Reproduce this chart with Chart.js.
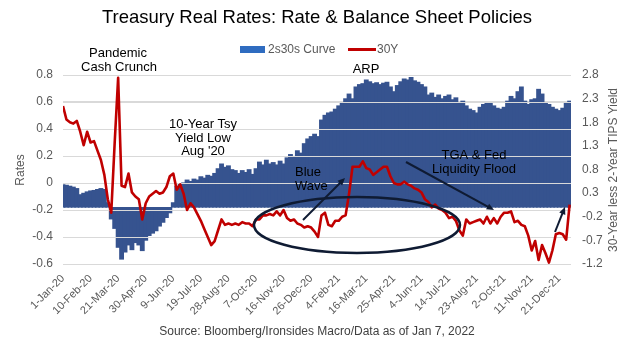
<!DOCTYPE html>
<html>
<head>
<meta charset="utf-8">
<script src="https://cdn.jsdelivr.net/npm/chart.js@4.4.0/dist/chart.umd.min.js"></script>
<style>
  html, body { margin: 0; padding: 0; background: #fff; }
</style>
</head>
<body>
<canvas id="chart" width="634" height="341"></canvas>
<script>
// one point every 5 calendar days, starting 1-Jan-20
const STEP_DAYS = 5;
const START = Date.UTC(2020, 0, 1);
const LAST_DAY = 737; // 7-Jan-22

// 2s30s curve: 30-year less 2-year TIPS yield (right axis)
const curve = [
  0.48, 0.47, 0.45, 0.43, 0.40, 0.27, 0.30, 0.33, 0.35, 0.36,
  0.38, 0.40, 0.38, 0.10, -0.25, -0.45, -0.85, -1.10, -0.95, -0.80,
  -0.90, -0.75, -0.80, -0.92, -0.70, -0.60, -0.55, -0.50, -0.40, -0.32,
  -0.22, -0.12, 0.10, 0.45, 0.50, 0.52, 0.58, 0.55, 0.60, 0.58,
  0.65, 0.62, 0.68, 0.66, 0.72, 0.82, 0.92, 0.85, 0.88, 0.80,
  0.78, 0.72, 0.78, 0.74, 0.80, 0.70, 0.82, 0.96, 0.90, 1.00,
  0.92, 0.95, 0.90, 0.98, 0.92, 1.05, 1.12, 1.08, 1.20, 1.15,
  1.35, 1.45, 1.50, 1.55, 1.50, 1.85, 1.95, 2.00, 2.02, 2.08,
  2.15, 2.22, 2.30, 2.40, 2.30, 2.55, 2.60, 2.62, 2.70, 2.66,
  2.62, 2.64, 2.60, 2.63, 2.65, 2.55, 2.45, 2.58, 2.66, 2.72,
  2.70, 2.75, 2.68, 2.65, 2.60, 2.55, 2.38, 2.42, 2.33, 2.38,
  2.30, 2.35, 2.38, 2.28, 2.32, 2.20, 2.25, 2.15, 2.08, 2.05,
  2.00, 2.12, 2.18, 2.22, 2.20, 2.15, 2.10, 2.08, 2.12, 2.25,
  2.35, 2.30, 2.45, 2.55, 2.25, 2.18, 2.28, 2.30, 2.50, 2.40,
  2.20, 2.18, 2.12, 2.08, 2.05, 2.10, 2.20, 2.25
];

// 30Y real rate (left axis)
const rate30 = [
  0.57, 0.47, 0.45, 0.44, 0.46, 0.38, 0.28, 0.38, 0.30, 0.31,
  0.24, 0.17, 0.06, -0.12, -0.22, 0.30, 0.78, -0.02, -0.03, 0.07,
  -0.07, -0.10, -0.12, -0.27, -0.15, -0.10, -0.08, -0.06, -0.08, -0.07,
  -0.03, 0.05, 0.07, -0.05, -0.01, -0.08, -0.20, -0.15, -0.18, -0.23,
  -0.28, -0.34, -0.40, -0.46, -0.43, -0.35, -0.27, -0.31, -0.30, -0.31,
  -0.30, -0.31, -0.29, -0.30, -0.30, -0.32, -0.27, -0.27, -0.24, -0.24,
  -0.23, -0.24, -0.21, -0.24, -0.20, -0.26, -0.28, -0.27, -0.30, -0.31,
  -0.33, -0.32, -0.33, -0.36, -0.40, -0.24, -0.22, -0.31, -0.32, -0.28,
  -0.28, -0.25, -0.24, -0.08, 0.12, 0.12, 0.12, 0.16, 0.11, 0.10,
  0.06, 0.08, 0.10, 0.12, 0.12, 0.05, 0.00, -0.01, -0.01, 0.01,
  -0.01, -0.02, -0.04, -0.05, -0.07, -0.12, -0.14, -0.18, -0.16, -0.19,
  -0.20, -0.22, -0.26, -0.25, -0.28, -0.35, -0.39, -0.27, -0.30, -0.29,
  -0.28, -0.27, -0.30, -0.25, -0.30, -0.26, -0.30, -0.25, -0.22, -0.22,
  -0.21, -0.29, -0.28, -0.31, -0.32, -0.39, -0.50, -0.43, -0.57, -0.46,
  -0.52, -0.59, -0.50, -0.38, -0.37, -0.38, -0.42, -0.16
];

const days = curve.map((_, i) => i * STEP_DAYS);

const MONTHS = ['Jan', 'Feb', 'Mar', 'Apr', 'May', 'Jun', 'Jul', 'Aug', 'Sep', 'Oct', 'Nov', 'Dec'];
function dayLabel(d) {
  const dt = new Date(START + d * 86400000);
  return dt.getUTCDate() + '-' + MONTHS[dt.getUTCMonth()] + '-' + String(dt.getUTCFullYear()).slice(2);
}

const FONT = "'Liberation Sans', Arial, sans-serif";
const GREY = '#595959';
const BAR_BLUE = '#36538f';
const LINE_RED = '#c00000';
const INK = '#0f1b33';

function arrow(ctx, x1, y1, x2, y2) {
  const ang = Math.atan2(y2 - y1, x2 - x1);
  const h = 8;
  ctx.beginPath();
  ctx.moveTo(x1, y1);
  ctx.lineTo(x2 - Math.cos(ang) * h * 0.7, y2 - Math.sin(ang) * h * 0.7);
  ctx.stroke();
  ctx.beginPath();
  ctx.moveTo(x2, y2);
  ctx.lineTo(x2 - h * Math.cos(ang - 0.42), y2 - h * Math.sin(ang - 0.42));
  ctx.lineTo(x2 - h * Math.cos(ang + 0.42), y2 - h * Math.sin(ang + 0.42));
  ctx.closePath();
  ctx.fill();
}

// gridlines show as light lines across the bars, under the 30Y line
const gridOverBars = {
  id: 'gridOverBars',
  afterDatasetDraw(chart, args) {
    if (args.index !== 0) return;
    const { ctx, chartArea: a } = chart;
    const y = chart.scales.y;
    ctx.save();
    ctx.strokeStyle = '#d9d9d9';
    ctx.lineWidth = 1;
    y.ticks.forEach(t => {
      const py = Math.round(y.getPixelForValue(t.value)) + 0.5;
      ctx.beginPath();
      ctx.moveTo(a.left, py);
      ctx.lineTo(a.right, py);
      ctx.stroke();
    });
    ctx.restore();
  }
};

const decorations = {
  id: 'decorations',
  afterDraw(chart) {
    const ctx = chart.ctx;
    ctx.save();

    // title
    ctx.fillStyle = '#000';
    ctx.textAlign = 'center';
    ctx.textBaseline = 'middle';
    ctx.font = '18.5px ' + FONT;
    ctx.fillText('Treasury Real Rates: Rate & Balance Sheet Policies', 317, 18);

    // legend
    ctx.fillStyle = '#2f6cc0';
    ctx.fillRect(240, 46, 25, 7);
    ctx.strokeStyle = LINE_RED;
    ctx.lineWidth = 3;
    ctx.beginPath();
    ctx.moveTo(348, 49.5);
    ctx.lineTo(376, 49.5);
    ctx.stroke();
    ctx.font = '12px ' + FONT;
    ctx.fillStyle = GREY;
    ctx.textAlign = 'left';
    ctx.fillText('2s30s Curve', 268, 50);
    ctx.fillText('30Y', 377, 50);

    // axis titles
    ctx.save();
    ctx.translate(21, 170);
    ctx.rotate(-Math.PI / 2);
    ctx.textAlign = 'center';
    ctx.font = '12px ' + FONT;
    ctx.fillText('Rates', 0, 0);
    ctx.restore();
    ctx.save();
    ctx.translate(614, 170);
    ctx.rotate(-Math.PI / 2);
    ctx.textAlign = 'center';
    ctx.font = '12px ' + FONT;
    ctx.fillText('30-Year less 2-Year TIPS Yield', 0, 0);
    ctx.restore();

    // source
    ctx.textAlign = 'center';
    ctx.fillStyle = '#404040';
    ctx.font = '12px ' + FONT;
    ctx.fillText('Source: Bloomberg/Ironsides Macro/Data as of Jan 7, 2022', 317, 332);

    // annotations
    ctx.fillStyle = '#000';
    ctx.font = '13px ' + FONT;
    ctx.textAlign = 'center';
    ctx.fillText('Pandemic', 118, 53);
    ctx.fillText('Cash Crunch', 119, 67);
    ctx.fillText('10-Year Tsy', 203, 124);
    ctx.fillText('Yield Low', 203, 138);
    ctx.fillText("Aug '20", 203, 151);
    ctx.fillText('ARP', 366, 69);
    ctx.fillText('TGA & Fed', 474, 155);
    ctx.fillText('Liquidity Flood', 474, 169);
    ctx.textAlign = 'left';
    ctx.fillText('Blue', 295, 172);
    ctx.fillText('Wave', 295, 186);

    // ellipse and arrows
    ctx.strokeStyle = INK;
    ctx.fillStyle = INK;
    ctx.lineWidth = 2.5;
    ctx.beginPath();
    ctx.ellipse(357, 225, 103, 28, 0, 0, Math.PI * 2);
    ctx.stroke();
    ctx.lineWidth = 2;
    arrow(ctx, 303, 220, 345, 178);
    arrow(ctx, 406, 162, 494, 210);
    arrow(ctx, 555, 232, 565, 207);

    ctx.restore();
  }
};

new Chart(document.getElementById('chart'), {
  type: 'bar',
  data: {
    datasets: [
      {
        label: '2s30s Curve',
        data: curve.map((v, i) => ({ x: days[i], y: v })),
        yAxisID: 'y2',
        backgroundColor: BAR_BLUE,
        borderWidth: 0,
        barThickness: 4.2,
        order: 2
      },
      {
        type: 'line',
        label: '30Y',
        data: rate30.map((v, i) => ({ x: days[i], y: v })),
        yAxisID: 'y',
        borderColor: LINE_RED,
        borderWidth: 2.6,
        borderJoinStyle: 'round',
        pointRadius: 0,
        tension: 0,
        order: 1
      }
    ]
  },
  options: {
    responsive: false,
    animation: false,
    layout: { padding: { top: 75, left: 0, right: 0, bottom: 0 } },
    plugins: {
      legend: { display: false },
      tooltip: { enabled: false }
    },
    scales: {
      x: {
        type: 'linear',
        min: 0,
        max: LAST_DAY,
        offset: false,
        grid: { display: false, drawTicks: false },
        border: { display: false },
        afterFit(scale) { scale.height = 77; },
        ticks: {
          stepSize: 40,
          includeBounds: false,
          autoSkip: false,
          maxRotation: 45,
          minRotation: 45,
          padding: 8,
          color: GREY,
          font: { family: FONT, size: 11 },
          callback: v => dayLabel(v)
        }
      },
      y: {
        position: 'left',
        min: -0.6,
        max: 0.8,
        afterFit(scale) { scale.width = 63; },
        grid: { color: '#d9d9d9', drawTicks: false },
        border: { display: false },
        ticks: {
          stepSize: 0.2,
          padding: 10,
          color: GREY,
          font: { family: FONT, size: 12 },
          callback: v => String(Math.round(v * 10) / 10)
        }
      },
      y2: {
        position: 'right',
        min: -1.2,
        max: 2.8,
        afterFit(scale) { scale.width = 63; },
        grid: { display: false, drawTicks: false },
        border: { display: false },
        ticks: {
          stepSize: 0.5,
          padding: 11,
          color: GREY,
          font: { family: FONT, size: 12 },
          callback: v => String(Math.round(v * 10) / 10)
        }
      }
    }
  },
  plugins: [gridOverBars, decorations]
});
</script>
</body>
</html>
